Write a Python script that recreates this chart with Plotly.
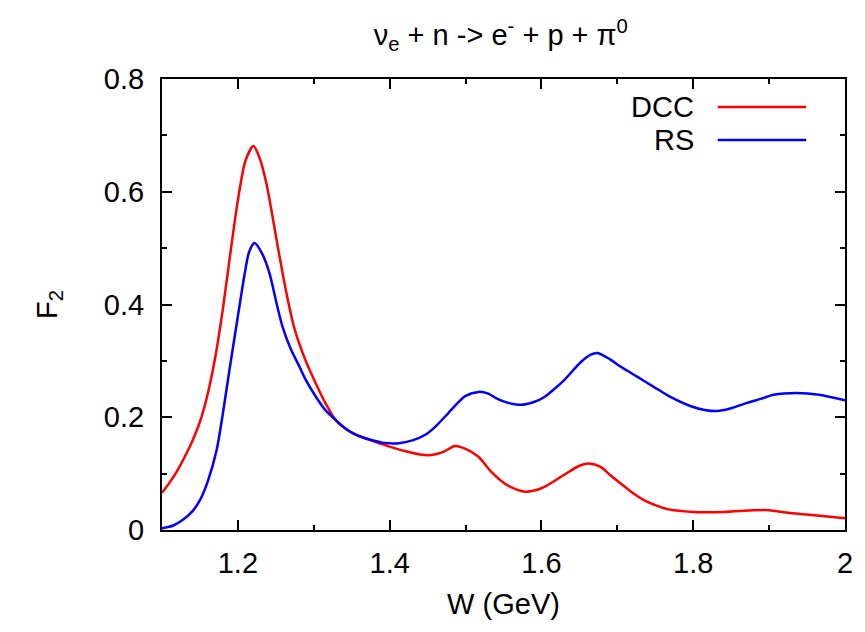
import plotly.graph_objects as go

# DCC series
dcc_w = [1.10, 1.11, 1.12, 1.13, 1.14, 1.15, 1.16, 1.17, 1.18, 1.19, 1.20, 1.21, 1.2205, 1.228, 1.2375,
         1.2503, 1.259, 1.2677, 1.274, 1.2808, 1.29, 1.3027, 1.315, 1.3289, 1.345, 1.363, 1.38, 1.40, 1.42, 1.44,
         1.455, 1.47, 1.486, 1.50, 1.517, 1.534, 1.552, 1.565, 1.579, 1.60, 1.63, 1.65, 1.663, 1.678,
         1.69, 1.704, 1.72, 1.735, 1.75, 1.766, 1.80, 1.84, 1.88, 1.90, 1.927, 1.96, 2.00]
dcc_f2 = [0.066, 0.084, 0.105, 0.130, 0.158, 0.192, 0.24, 0.305, 0.39, 0.49, 0.585, 0.655, 0.681, 0.662, 0.615,
          0.52, 0.455, 0.396, 0.36, 0.331, 0.298, 0.26, 0.226, 0.195, 0.177, 0.165, 0.157, 0.148, 0.140, 0.134,
          0.133, 0.138, 0.149, 0.144, 0.130, 0.103, 0.082, 0.073, 0.068, 0.074, 0.098, 0.114, 0.118, 0.112,
          0.098, 0.083, 0.066, 0.053, 0.044, 0.037, 0.032, 0.032, 0.035, 0.035, 0.030, 0.026, 0.021]

# RS series
rs_w = [1.10, 1.115, 1.1275, 1.14, 1.15, 1.16, 1.172, 1.18, 1.189, 1.196, 1.203, 1.209, 1.215, 1.222,
        1.232, 1.2415, 1.252, 1.259, 1.27, 1.281, 1.29, 1.303, 1.315, 1.329, 1.34, 1.355, 1.37, 1.39,
        1.412, 1.43, 1.447, 1.46, 1.477, 1.49, 1.50, 1.517, 1.53, 1.54, 1.555, 1.573, 1.59, 1.604,
        1.615, 1.63, 1.652, 1.665, 1.674, 1.69, 1.704, 1.726, 1.748, 1.77, 1.796, 1.815, 1.831,
        1.85, 1.870, 1.89, 1.906, 1.936, 1.966, 2.00]
rs_f2 = [0.003, 0.008, 0.018, 0.033, 0.053, 0.085, 0.142, 0.205, 0.285, 0.345, 0.405, 0.455, 0.494, 0.509,
         0.49, 0.456, 0.396, 0.36, 0.32, 0.29, 0.265, 0.236, 0.213, 0.195, 0.182, 0.169, 0.162, 0.155,
         0.154, 0.159, 0.169, 0.183, 0.207, 0.226, 0.238, 0.245, 0.242, 0.234, 0.226, 0.222, 0.227, 0.236,
         0.248, 0.266, 0.298, 0.311, 0.314, 0.303, 0.29, 0.272, 0.254, 0.236, 0.22, 0.213, 0.211,
         0.216, 0.225, 0.233, 0.24, 0.243, 0.24, 0.23]

x_ticks = [1.2, 1.4, 1.6, 1.8, 2.0]
x_ticklabels = ["1.2", "1.4", "1.6", "1.8", "2"]
y_ticks = [0, 0.2, 0.4, 0.6, 0.8]
y_ticklabels = ["0", "0.2", "0.4", "0.6", "0.8"]

FONT = "Liberation Sans, Arial, Helvetica, sans-serif"
FS = 29

fig = go.Figure()
fig.add_trace(go.Scatter(x=dcc_w, y=dcc_f2, mode="lines", name="DCC",
                         line=dict(color="#ff0000", width=2.5, shape="spline", smoothing=0.8)))
fig.add_trace(go.Scatter(x=rs_w, y=rs_f2, mode="lines", name="RS",
                         line=dict(color="#0000ff", width=2.5, shape="spline", smoothing=0.8)))

axis_common = dict(showgrid=False, zeroline=False, showline=True, linecolor="black", linewidth=2,
                   mirror="allticks", ticks="inside", ticklen=10, tickwidth=1.5, tickcolor="black",
                   tickfont=dict(family=FONT, size=FS, color="black"))

fig.update_xaxes(range=[1.1, 2.0], tickvals=x_ticks, ticktext=x_ticklabels,
                 minor=dict(dtick=0.1, tick0=1.1, ticks="inside", ticklen=5, tickwidth=1.5, tickcolor="black"),
                 title=dict(text="W (GeV)", font=dict(family=FONT, size=FS, color="black"), standoff=16),
                 ticklabelstandoff=6,
                 **axis_common)
fig.update_yaxes(range=[0, 0.8], tickvals=y_ticks, ticktext=y_ticklabels,
                 minor=dict(dtick=0.1, tick0=0, ticks="inside", ticklen=5, tickwidth=1.5, tickcolor="black"),
                 title=dict(text="F<sub>2</sub>", font=dict(family=FONT, size=FS, color="black"), standoff=38),
                 ticklabelstandoff=10,
                 **axis_common)

# legend drawn inside the plot: label on the left, line sample on the right
legend_items = [("DCC", "#ff0000", 0.938), ("RS", "#0000ff", 0.8647)]
for label, color, yp in legend_items:
    fig.add_annotation(x=0.7817, y=yp, xref="paper", yref="paper", text=label, showarrow=False,
                       xanchor="right", yanchor="middle", font=dict(family=FONT, size=FS, color="black"))
    fig.add_shape(type="line", xref="paper", yref="paper", x0=0.8137, x1=0.9432, y0=yp, y1=yp,
                  line=dict(color=color, width=2.5))

fig.update_layout(
    width=865, height=632,
    margin=dict(l=162, r=16, t=79, b=102),
    paper_bgcolor="white", plot_bgcolor="white",
    showlegend=False,
    title=dict(text="ν<sub>e</sub> + n -> e<sup>-</sup> + p + π<sup>0</sup>",
               x=0.579, xanchor="center", y=0.945, yanchor="middle",
               font=dict(family=FONT, size=FS, color="black")),
)

fig.write_html("out.html")
